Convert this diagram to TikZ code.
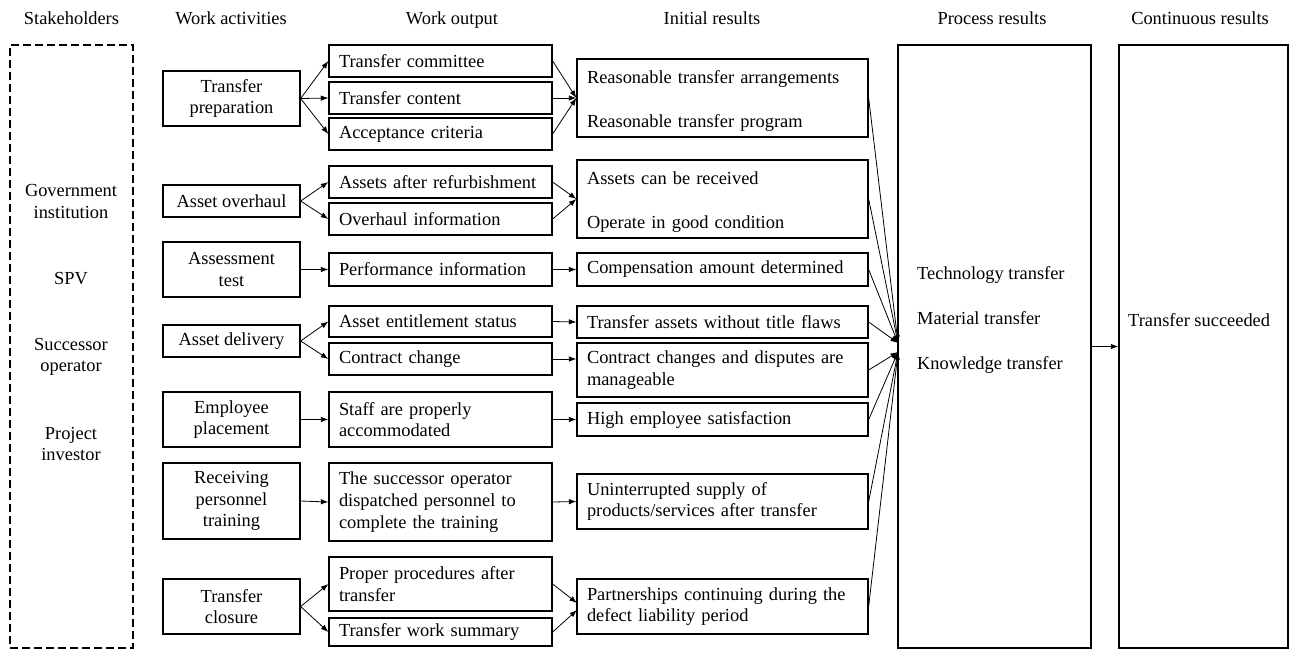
\documentclass[tikz,border=0pt]{standalone}
\usepackage{fontspec}
\setmainfont{Liberation Serif}
\usetikzlibrary{arrows.meta}
\begin{document}
\begin{tikzpicture}[x=1pt,y=-1pt]
\tikzset{
  every node/.style={font=\fontsize{18.4}{21.7}\selectfont},
  box/.style={draw, line width=1.3pt, inner ysep=1pt, inner xsep=0pt},
  lbox/.style={box, align=left, text width=#1},
  cbox/.style={box, align=center},
  dashbox/.style={draw, line width=1.3pt, dash pattern=on 8pt off 4pt},
  arr/.style={line width=0.8pt, -{Latex[length=7.5pt,width=5.5pt]}},
  head/.style={anchor=base},
}
\useasboundingbox (0,0) rectangle (1289,651);
% headers
\node[head] (h1) at (71.5,24) {Stakeholders};
\node[head] (h2) at (231,24) {Work activities};
\node[head] (h3) at (452,24) {Work output};
\node[head] (h4) at (712,24) {Initial results};
\node[head] (h5) at (992,24) {Process results};
\node[head] (h6) at (1200,24) {Continuous results};
% stakeholders
\node[dashbox, minimum width=123pt, minimum height=603pt] (sh) at (71.5,346.5) {};
\node[align=center] (sh1) at (71,201.5) {Government\\institution};
\node[align=center] (sh2) at (71,279) {SPV};
\node[align=center] (sh3) at (71,357) {Successor\\operator};
\node[align=center] (sh4) at (71,444) {Project\\investor};
% work activities
\node[cbox, minimum width=137pt, minimum height=55pt] (a1) at (231.5,98.5) {Transfer\\preparation};
\node[cbox, minimum width=137pt, minimum height=32pt] (a2) at (231.5,201) {Asset overhaul};
\node[cbox, minimum width=137pt, minimum height=55pt] (a3) at (231.5,269.5) {Assessment\\test};
\node[cbox, minimum width=137pt, minimum height=32pt] (a4) at (231.5,341) {Asset delivery};
\node[cbox, minimum width=137pt, minimum height=55pt] (a5) at (231.5,419.5) {Employee\\placement};
\node[cbox, minimum width=137pt, minimum height=76pt] (a6) at (231.5,501) {Receiving\\personnel\\training};
\node[cbox, minimum width=137pt, minimum height=55pt] (a7) at (231.5,606.5) {Transfer\\closure};
% work output
\node[lbox=203pt, minimum width=223pt, minimum height=32pt] (o1) at (440.5,61) {Transfer committee};
\node[lbox=203pt, minimum width=223pt, minimum height=32pt] (o2) at (440.5,98) {Transfer content};
\node[lbox=203pt, minimum width=223pt, minimum height=32pt] (o3) at (440.5,134) {Acceptance criteria};
\node[lbox=203pt, minimum width=223pt, minimum height=32pt] (o4) at (440.5,182) {Assets after refurbishment};
\node[lbox=203pt, minimum width=223pt, minimum height=32pt] (o5) at (440.5,219) {Overhaul information};
\node[lbox=203pt, minimum width=223pt, minimum height=33pt] (o6) at (440.5,269.5) {Performance information};
\node[lbox=203pt, minimum width=223pt, minimum height=31pt] (o7) at (440.5,321.5) {Asset entitlement status};
\node[lbox=203pt, minimum width=223pt, minimum height=32pt] (o8) at (440.5,359) {Contract change};
\node[lbox=203pt, minimum width=223pt, minimum height=55pt] (o9) at (440.5,419.5) {Staff are properly\\accommodated};
\node[lbox=203pt, minimum width=223pt, minimum height=78pt] (o10) at (440.5,502) {The successor operator\\dispatched personnel to\\complete the training};
\node[lbox=203pt, minimum width=223pt, minimum height=54pt] (o11) at (440.5,584) {Proper procedures after\\transfer};
\node[lbox=203pt, minimum width=223pt, minimum height=28pt] (o12) at (440.5,632) {Transfer work summary};
% initial results
\node[lbox=271pt, minimum width=291pt, minimum height=78pt] (r1) at (722.5,98) {\rule{0pt}{19pt}Reasonable transfer arrangements\\[22pt]Reasonable transfer program};
\node[lbox=271pt, minimum width=291pt, minimum height=78pt] (r2) at (722.5,199) {\rule{0pt}{19pt}Assets can be received\\[22pt]Operate in good condition};
\node[lbox=271pt, minimum width=291pt, minimum height=33pt] (r3) at (722.5,269.5) {Compensation amount determined};
\node[lbox=271pt, minimum width=291pt, minimum height=32pt] (r4) at (722.5,322) {Transfer assets without title flaws};
\node[lbox=271pt, minimum width=291pt, minimum height=54pt] (r5) at (722.5,370) {Contract changes and disputes are\\manageable};
\node[lbox=271pt, minimum width=291pt, minimum height=33pt] (r6) at (722.5,419.5) {High employee satisfaction};
\node[lbox=271pt, minimum width=291pt, minimum height=55pt] (r7) at (722.5,501.5) {Uninterrupted supply of\\products/services after transfer};
\node[lbox=271pt, minimum width=291pt, minimum height=55pt] (r8) at (722.5,606.5) {Partnerships continuing during the\\defect liability period};
% process & continuous
\node[box, minimum width=193pt, minimum height=603pt] (pr) at (994.5,346.5) {};
\node[align=left, anchor=west, inner sep=0pt] (prt) at (917,320) {Technology transfer\\[23.3pt]Material transfer\\[23.3pt]Knowledge transfer};
\node[box, minimum width=169pt, minimum height=603pt] (cr) at (1203.5,346.5) {};
\node[anchor=west, inner sep=0pt] (crt) at (1128,320) {Transfer succeeded};
% convergence points
\coordinate (r8a) at (577,603);
\coordinate (r8b) at (577,610);
\coordinate (pu) at (898,343);
\coordinate (pl) at (898,352);
% arrows: activities -> outputs
\foreach \t in {o1,o2,o3} \draw[arr] (a1.east) -- (\t.west);
\foreach \t in {o4,o5} \draw[arr] (a2.east) -- (\t.west);
\draw[arr] (a3.east) -- (o6.west);
\foreach \t in {o7,o8} \draw[arr] (a4.east) -- (\t.west);
\draw[arr] (a5.east) -- (o9.west);
\draw[arr] (a6.east) -- (o10.west);
\foreach \t in {o11,o12} \draw[arr] (a7.east) -- (\t.west);
% outputs -> initial results
\foreach \s in {o1,o2,o3} \draw[arr] (\s.east) -- (r1.west);
\foreach \s in {o4,o5} \draw[arr] (\s.east) -- (r2.west);
\draw[arr] (o6.east) -- (r3.west);
\draw[arr] (o7.east) -- (r4.west);
\draw[arr] (o8.east) -- (o8.east -| r5.west);
\draw[arr] (o9.east) -- (r6.west);
\draw[arr] (o10.east) -- (r7.west);
\draw[arr] (o11.east) -- (r8a);
\draw[arr] (o12.east) -- (r8b);
% initial -> process
\foreach \s in {r1,r2,r3,r4} \draw[arr] (\s.east) -- (pu);
\foreach \s in {r5,r6,r7,r8} \draw[arr] (\s.east) -- (pl);
% process -> continuous
\draw[arr] (pr.east) -- (cr.west);
\end{tikzpicture}
\end{document}
